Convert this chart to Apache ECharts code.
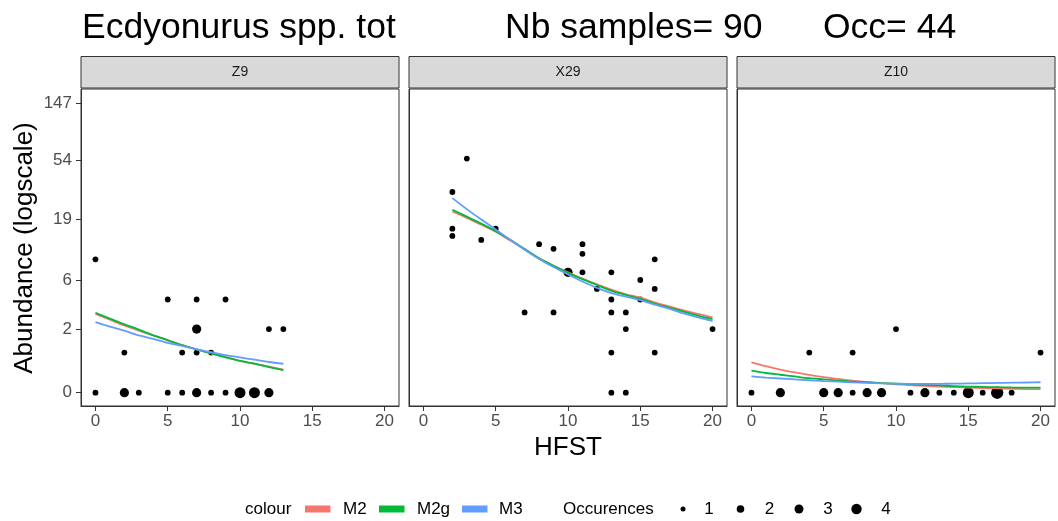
<!DOCTYPE html>
<html><head><meta charset="utf-8">
<script src="https://cdn.jsdelivr.net/npm/echarts@6/dist/echarts.min.js"></script>
<style>html,body{margin:0;padding:0;background:#fff}#c{width:1058px;height:521px}</style>
</head><body><div id="c"></div>
<script>
// ---------- DATA ----------
const panels = ['Z9', 'X29', 'Z10'];
const titleParts = ['Ecdyonurus spp. tot', 'Nb samples= 90', 'Occ= 44'];
const xTicks = [0, 5, 10, 15, 20];
const yTickLabels = [0, 2, 6, 19, 54, 147];   // abundance, shown on log(1+x) scale
const models = ['M2', 'M2g', 'M3'];
const occLevels = [1, 2, 3, 4];

// observed points: [HFST, abundance, occurrences]
const ptsZ9 = [
  [0,9,1],[5,4,1],[7,4,1],[9,4,1],[7,2,2],[12,2,1],[13,2,1],[2,1,1],[6,1,1],[7,1,1],[8,1,1],
  [0,0,1],[2,0,2],[3,0,1],[5,0,1],[6,0,1],[7,0,2],[8,0,1],[9,0,1],[10,0,3],[11,0,3],[12,0,2]
];
const ptsX29 = [
  [3,56,1],[2,31,1],[2,16,1],[2,14,1],[5,16,1],[4,13,1],[8,12,1],[9,11,1],[11,12,1],[11,10,1],
  [11,7,1],[10,7,2],[13,7,1],[16,9,1],[15,6,1],[16,5,1],[12,5,1],[13,4,1],[15,4,1],
  [7,3,1],[9,3,1],[13,3,1],[14,3,1],[14,2,1],[20,2,1],[13,1,1],[16,1,1],[13,0,1],[14,0,1]
];
const ptsZ10 = [
  [4,1,1],[7,1,1],[10,2,1],[20,1,1],
  [0,0,1],[2,0,2],[5,0,2],[6,0,2],[7,0,1],[8,0,2],[9,0,2],[11,0,1],[12,0,2],[13,0,1],
  [14,0,1],[15,0,3],[16,0,1],[17,0,4],[18,0,1]
];

// fitted curves, values on log(1 + abundance) scale
const fitXZ9 = [0,1,2,3,4,5,6,7,8,9,10,11,12,13];
const m2Z9  = [1.36,1.26,1.16,1.07,0.99,0.90,0.82,0.75,0.68,0.62,0.55,0.50,0.45,0.40];
const m2gZ9 = [1.38,1.28,1.18,1.09,0.99,0.91,0.82,0.75,0.68,0.61,0.55,0.50,0.44,0.39];
const m3Z9  = [1.22,1.14,1.07,0.99,0.93,0.86,0.81,0.75,0.70,0.65,0.61,0.57,0.53,0.50];

const fitXX29 = [2,3,4,5,6,7,8,9,10,11,12,13,14,15,16,17,18,19,20];
const m2X29  = [3.13,3.02,2.90,2.78,2.63,2.48,2.32,2.19,2.08,1.97,1.87,1.78,1.70,1.64,1.56,1.49,1.42,1.36,1.30];
const m2gX29 = [3.16,3.04,2.92,2.79,2.64,2.48,2.32,2.19,2.07,1.96,1.86,1.76,1.69,1.62,1.54,1.47,1.40,1.33,1.27];
const m3X29  = [3.36,3.17,2.99,2.82,2.64,2.47,2.31,2.17,2.04,1.92,1.81,1.72,1.66,1.60,1.52,1.45,1.37,1.30,1.24];

const fitXZ10 = [0,1,2,3,4,5,6,7,8,9,10,11,12,13,14,15,16,17,18,19,20];
const m2Z10  = [0.525,0.458,0.400,0.350,0.306,0.268,0.236,0.208,0.184,0.164,0.146,0.131,0.117,0.106,0.096,0.088,0.080,0.074,0.068,0.063,0.060];
const m2gZ10 = [0.380,0.340,0.310,0.280,0.250,0.230,0.210,0.190,0.180,0.165,0.155,0.145,0.135,0.125,0.115,0.105,0.100,0.095,0.090,0.088,0.086];
const m3Z10  = [0.280,0.260,0.245,0.230,0.215,0.200,0.190,0.178,0.168,0.160,0.155,0.152,0.152,0.153,0.156,0.160,0.164,0.168,0.172,0.176,0.180];

// ---------- STYLE / LAYOUT ----------
const FONT = "'Liberation Sans', Arial, Helvetica, sans-serif";
const modelColors = ['#F8766D', '#00BA38', '#619CFF'];
const dotSize = {1: 5.8, 2: 9.2, 3: 11, 4: 12.4};
const legendDot = {1: 5, 2: 7.6, 3: 9, 4: 10.4};
const gridLefts = [81, 409, 737];
const GT = 89, GW = 318, GH = 317;

const pointSets = [ptsZ9, ptsX29, ptsZ10];
const fitXs = [fitXZ9, fitXX29, fitXZ10];
const fits = [[m2Z9, m2gZ9, m3Z9], [m2X29, m2gX29, m3X29], [m2Z10, m2gZ10, m3Z10]];
const yTickVals = yTickLabels.map(v => Math.log1p(v));

const grids = [], xAxes = [], yAxes = [], series = [], graphic = [];

panels.forEach((name, i) => {
  grids.push({left: gridLefts[i], top: GT, width: GW, height: GH, show: true,
    backgroundColor: '#fff', borderColor: '#333', borderWidth: 1});
  xAxes.push({gridIndex: i, type: 'value', min: -1, max: 21,
    axisLine: {show: true, onZero: false, lineStyle: {color: '#333', width: 1}},
    splitLine: {show: false},
    axisTick: {show: true, customValues: xTicks, length: 5, lineStyle: {color: '#333'}},
    axisLabel: {customValues: xTicks, color: '#4D4D4D', fontSize: 17, margin: 7, fontFamily: FONT}
  });
  yAxes.push({gridIndex: i, type: 'value', min: -0.23, max: 5.245,
    axisLine: {show: true, onZero: false, lineStyle: {color: '#333', width: 1}},
    splitLine: {show: false},
    axisTick: {show: i === 0, customValues: yTickVals, length: 5, lineStyle: {color: '#333'}},
    axisLabel: {show: i === 0, customValues: yTickVals, color: '#4D4D4D', fontSize: 17, margin: 9,
      fontFamily: FONT, formatter: v => String(Math.round(Math.expm1(v)))}
  });
  series.push({
    type: 'scatter', xAxisIndex: i, yAxisIndex: i, name: 'obs' + name,
    data: pointSets[i].map(p => [p[0], Math.log1p(p[1]), p[2]]),
    symbol: 'circle', symbolSize: v => dotSize[v[2]],
    itemStyle: {color: '#000', opacity: 1}, silent: true, z: 2
  });
  models.forEach((m, k) => {
    series.push({
      type: 'line', name: m, xAxisIndex: i, yAxisIndex: i,
      data: fitXs[i].map((x, j) => [x, fits[i][k][j]]),
      showSymbol: false, smooth: 0.3, silent: true, z: 3 + k,
      lineStyle: {color: modelColors[k], width: 1.8}, itemStyle: {color: modelColors[k]}
    });
  });
  // facet strip
  graphic.push({type: 'rect', shape: {x: gridLefts[i], y: 56.5, width: GW, height: 31.5},
    style: {fill: '#D9D9D9', stroke: '#333', lineWidth: 1}});
  graphic.push({type: 'text', x: gridLefts[i] + GW / 2, y: 72.5,
    style: {text: name, font: '14px ' + FONT, fill: '#1A1A1A', align: 'center', verticalAlign: 'middle'}});
});

// titles
const titleX = [82, 505, 823];
titleParts.forEach((t, i) => graphic.push({type: 'text', x: titleX[i], y: 28,
  style: {text: t, font: '35.5px ' + FONT, fill: '#000', align: 'left', verticalAlign: 'middle'}}));

// axis titles
graphic.push({type: 'text', x: 25, y: 248, rotation: Math.PI / 2,
  style: {text: 'Abundance (logscale)', font: '26px ' + FONT, fill: '#000', align: 'center', verticalAlign: 'middle'}});
graphic.push({type: 'text', x: 568, y: 448,
  style: {text: 'HFST', font: '26px ' + FONT, fill: '#000', align: 'center', verticalAlign: 'middle'}});

// legend
const LY = 509;
graphic.push({type: 'text', x: 245, y: LY,
  style: {text: 'colour', font: '17px ' + FONT, fill: '#000', align: 'left', verticalAlign: 'middle'}});
const keyX = [305, 379, 462], keyTextX = [343, 417, 499];
models.forEach((m, k) => {
  graphic.push({type: 'rect', shape: {x: keyX[k], y: LY - 3.5, width: 25.5, height: 7},
    style: {fill: modelColors[k]}});
  graphic.push({type: 'text', x: keyTextX[k], y: LY,
    style: {text: m, font: '17px ' + FONT, fill: '#000', align: 'left', verticalAlign: 'middle'}});
});
graphic.push({type: 'text', x: 563, y: LY,
  style: {text: 'Occurences', font: '17px ' + FONT, fill: '#000', align: 'left', verticalAlign: 'middle'}});
const dotX = [683, 740.5, 799, 856.5], dotTextX = [709, 769.5, 828, 886];
occLevels.forEach((o, k) => {
  graphic.push({type: 'circle', shape: {cx: dotX[k], cy: LY, r: legendDot[o] / 2}, style: {fill: '#000'}});
  graphic.push({type: 'text', x: dotTextX[k], y: LY,
    style: {text: String(o), font: '17px ' + FONT, fill: '#000', align: 'center', verticalAlign: 'middle'}});
});

const chart = echarts.init(document.getElementById('c'));
chart.setOption({
  animation: false,
  backgroundColor: '#fff',
  textStyle: {fontFamily: FONT},
  grid: grids, xAxis: xAxes, yAxis: yAxes, series: series, graphic: graphic
});
</script></body></html>
